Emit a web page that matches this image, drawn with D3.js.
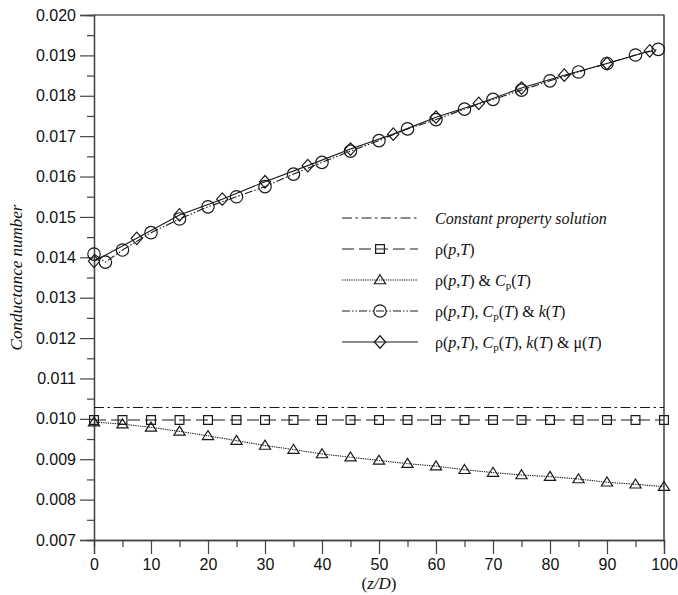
<!DOCTYPE html>
<html>
<head>
<meta charset="utf-8">
<script src="https://cdn.jsdelivr.net/npm/d3@7"></script>
<style>
  body { margin: 0; background: #fff; }
  svg { display: block; }
</style>
</head>
<body>
<svg id="chart" width="678" height="595"></svg>
<script>
// ---- data ----------------------------------------------------------------
const xTickValues = [0, 10, 20, 30, 40, 50, 60, 70, 80, 90, 100];
const xMinorValues = [5, 15, 25, 35, 45, 55, 65, 75, 85, 95];
const yTickValues = [0.007, 0.008, 0.009, 0.010, 0.011, 0.012, 0.013, 0.014,
                     0.015, 0.016, 0.017, 0.018, 0.019, 0.020];
const yMinorValues = [0.0075, 0.0085, 0.0095, 0.0105, 0.0115, 0.0125, 0.0135,
                      0.0145, 0.0155, 0.0165, 0.0175, 0.0185, 0.0195];

// constant property solution
const constX = [0, 100];
const constY = [0.01028, 0.01028];

// rho(p,T)
const rhoX = [0, 5, 10, 15, 20, 25, 30, 35, 40, 45, 50, 55, 60, 65, 70, 75, 80, 85, 90, 95, 100];
const rhoY = [0.00997, 0.00997, 0.00997, 0.00997, 0.00997, 0.00997, 0.00997,
              0.00997, 0.00997, 0.00997, 0.00997, 0.00997, 0.00997, 0.00997,
              0.00997, 0.00997, 0.00997, 0.00997, 0.00997, 0.00997, 0.00997];

// rho(p,T) & Cp(T)
const rhoCpX = [0, 5, 10, 15, 20, 25, 30, 35, 40, 45, 50, 55, 60, 65, 70, 75, 80, 85, 90, 95, 100];
const rhoCpY = [0.00992, 0.00987, 0.00979, 0.00969, 0.00958, 0.00946, 0.00934,
                0.00924, 0.00913, 0.00905, 0.00897, 0.00889, 0.00883, 0.00874,
                0.00867, 0.00861, 0.00857, 0.00851, 0.00843, 0.00838, 0.00832];

// rho(p,T), Cp(T) & k(T)
const rhoCpKX = [0, 2, 5, 10, 15, 20, 25, 30, 35, 40, 45, 50, 55, 60, 65, 70, 75, 80, 85, 90, 95, 99];
const rhoCpKY = [0.01408, 0.01388, 0.01418, 0.01461, 0.01495, 0.01525, 0.01550,
                 0.01575, 0.01606, 0.01635, 0.01663, 0.01689, 0.01718, 0.01741,
                 0.01767, 0.01791, 0.01814, 0.01837, 0.01859, 0.01880, 0.01901, 0.01915];

// rho(p,T), Cp(T), k(T) & mu(T)
const rhoCpKMuX = [0, 7.5, 15, 22.5, 30, 37.5, 45, 52.5, 60, 67.5, 75, 82.5, 90, 97.5];
const rhoCpKMuY = [0.01390, 0.01447, 0.01505, 0.01544, 0.01587, 0.01627, 0.01668,
                   0.01705, 0.01747, 0.01781, 0.01819, 0.01851, 0.01880, 0.01911];

// ---- layout ----------------------------------------------------------------
const W = 678, H = 595;
const margin = { top: 15, right: 14, bottom: 55, left: 94 };
const svg = d3.select("#chart");

const x = d3.scaleLinear().domain([0, 100]).range([margin.left, W - margin.right]);
const y = d3.scaleLinear().domain([0.007, 0.020]).range([H - margin.bottom, margin.top]);

const axisColor = "#444";
const ink = "#1a1a1a";
const sansFont = "'Liberation Sans', Arial, sans-serif";
const serifFont = "'Liberation Serif', 'Times New Roman', serif";

// ---- frame (top and right edges) ----
svg.append("path")
  .attr("d", `M${x(0)},${y(0.020)}H${x(100)}V${y(0.007)}`)
  .attr("fill", "none").attr("stroke", "#111").attr("stroke-width", 1.2);

// ---- axes ----
function styleAxis(g) {
  g.select(".domain").attr("stroke", axisColor).attr("stroke-width", 1.3);
  g.selectAll(".tick line").attr("stroke", axisColor).attr("stroke-width", 1.2);
  g.selectAll(".tick text").attr("fill", "#111")
    .style("font-family", sansFont).style("font-size", "16px");
}

svg.append("g")
  .attr("transform", `translate(${margin.left},0)`)
  .call(d3.axisLeft(y).tickValues(yMinorValues).tickSize(7).tickFormat(""))
  .call(styleAxis);
svg.append("g")
  .attr("transform", `translate(${margin.left},0)`)
  .call(d3.axisLeft(y).tickValues(yTickValues).tickSize(14).tickPadding(4)
        .tickFormat(d3.format(".3f")))
  .call(styleAxis);

svg.append("g")
  .attr("transform", `translate(0,${H - margin.bottom})`)
  .call(d3.axisBottom(x).tickValues(xMinorValues).tickSize(7).tickFormat(""))
  .call(styleAxis);
svg.append("g")
  .attr("transform", `translate(0,${H - margin.bottom})`)
  .call(d3.axisBottom(x).tickValues(xTickValues).tickSize(14).tickPadding(5)
        .tickFormat(d3.format("d")))
  .call(styleAxis);

// ---- axis titles ----
svg.append("text")
  .attr("transform", `translate(22,${(y(0.020) + y(0.007)) / 2}) rotate(-90)`)
  .attr("text-anchor", "middle")
  .style("font-family", serifFont).style("font-style", "italic").style("font-size", "17px")
  .attr("fill", "#111")
  .text("Conductance number");

const xTitle = svg.append("text")
  .attr("x", (x(0) + x(100)) / 2).attr("y", 589)
  .attr("text-anchor", "middle")
  .style("font-family", serifFont).style("font-size", "17px").attr("fill", "#111");
xTitle.append("tspan").text("(");
xTitle.append("tspan").style("font-style", "italic").text("z/D");
xTitle.append("tspan").text(")");

// ---- marker shapes ----
const markerPaths = {
  none: () => "",
  square: (s) => `M${-s},${-s}H${s}V${s}H${-s}Z`,
  triangle: (s) => `M0,${-s * 1.05}L${s * 1.12},${s * 0.75}H${-s * 1.12}Z`,
  circle: (s) => `M${s},0A${s},${s} 0 1,1 ${-s},0A${s},${s} 0 1,1 ${s},0Z`,
  diamond: (s) => `M0,${-s * 1.12}L${s},0L0,${s * 1.12}L${-s},0Z`
};

const series = [
  { xs: constX, ys: constY, dash: "10,3.5,2.5,3.5", marker: "none", size: 0, width: 1.1,
    label: [["Constant property solution", "i"]] },
  { xs: rhoX, ys: rhoY, dash: "12,5", marker: "square", size: 4.4, width: 1.1,
    label: [["ρ(", ""], ["p", "i"], [",", ""], ["T", "i"], [")", ""]] },
  { xs: rhoCpX, ys: rhoCpY, dash: "1.3,1", marker: "triangle", size: 5, width: 1.1,
    label: [["ρ(", ""], ["p", "i"], [",", ""], ["T", "i"], [") & ", ""], ["C", "i"], ["p", "sub"],
            ["(", ""], ["T", "i"], [")", ""]] },
  { xs: rhoCpKX, ys: rhoCpKY, dash: "8,2,1.5,2,1.5,2", marker: "circle", size: 6.2, width: 1.1,
    label: [["ρ(", ""], ["p", "i"], [",", ""], ["T", "i"], ["), ", ""], ["C", "i"], ["p", "sub"],
            ["(", ""], ["T", "i"], [") & ", ""], ["k", "i"], ["(", ""], ["T", "i"], [")", ""]] },
  { xs: rhoCpKMuX, ys: rhoCpKMuY, dash: null, marker: "diamond", size: 5.6, width: 1.1,
    label: [["ρ(", ""], ["p", "i"], [",", ""], ["T", "i"], ["), ", ""], ["C", "i"], ["p", "sub"],
            ["(", ""], ["T", "i"], ["), ", ""], ["k", "i"], ["(", ""], ["T", "i"], [") & μ(", ""],
            ["T", "i"], [")", ""]] }
];

const line = d3.line().x(d => x(d[0])).y(d => y(d[1]));
const plot = svg.append("g");

series.forEach(s => {
  const pts = s.xs.map((v, i) => [v, s.ys[i]]);
  plot.append("path")
    .datum(pts)
    .attr("d", line)
    .attr("fill", "none")
    .attr("stroke", ink)
    .attr("stroke-width", s.width)
    .attr("stroke-dasharray", s.dash);
  if (s.marker !== "none") {
    plot.selectAll(null)
      .data(pts)
      .join("path")
      .attr("transform", d => `translate(${x(d[0])},${y(d[1])})`)
      .attr("d", markerPaths[s.marker](s.size))
      .attr("fill", "none")
      .attr("stroke", ink)
      .attr("stroke-width", 1.2);
  }
});

// ---- legend ----
const legendRowY = [218, 249, 280, 311, 342];
const legend = svg.append("g");
series.forEach((s, i) => {
  const ly = legendRowY[i];
  legend.append("line")
    .attr("x1", 342).attr("x2", 418).attr("y1", ly).attr("y2", ly)
    .attr("stroke", ink).attr("stroke-width", s.width)
    .attr("stroke-dasharray", s.dash);
  if (s.marker !== "none") {
    legend.append("path")
      .attr("transform", `translate(380,${ly})`)
      .attr("d", markerPaths[s.marker](s.size))
      .attr("fill", "none").attr("stroke", ink).attr("stroke-width", 1.2);
  }
  const t = legend.append("text")
    .attr("x", 435).attr("y", ly + 5.5)
    .style("font-family", serifFont).style("font-size", "16px").attr("fill", "#111");
  s.label.forEach(([txt, st]) => {
    const sp = t.append("tspan").text(txt);
    if (st === "i") sp.style("font-style", "italic");
    if (st === "sub") {
      sp.style("font-size", "11px").attr("dy", 3);
    }
  });
  // restore baseline after any subscript
  t.selectAll("tspan").each(function (d, k, nodes) {
    const prev = k > 0 ? d3.select(nodes[k - 1]) : null;
    if (prev && prev.attr("dy") === "3") d3.select(this).attr("dy", -3);
  });
});
</script>
</body>
</html>
